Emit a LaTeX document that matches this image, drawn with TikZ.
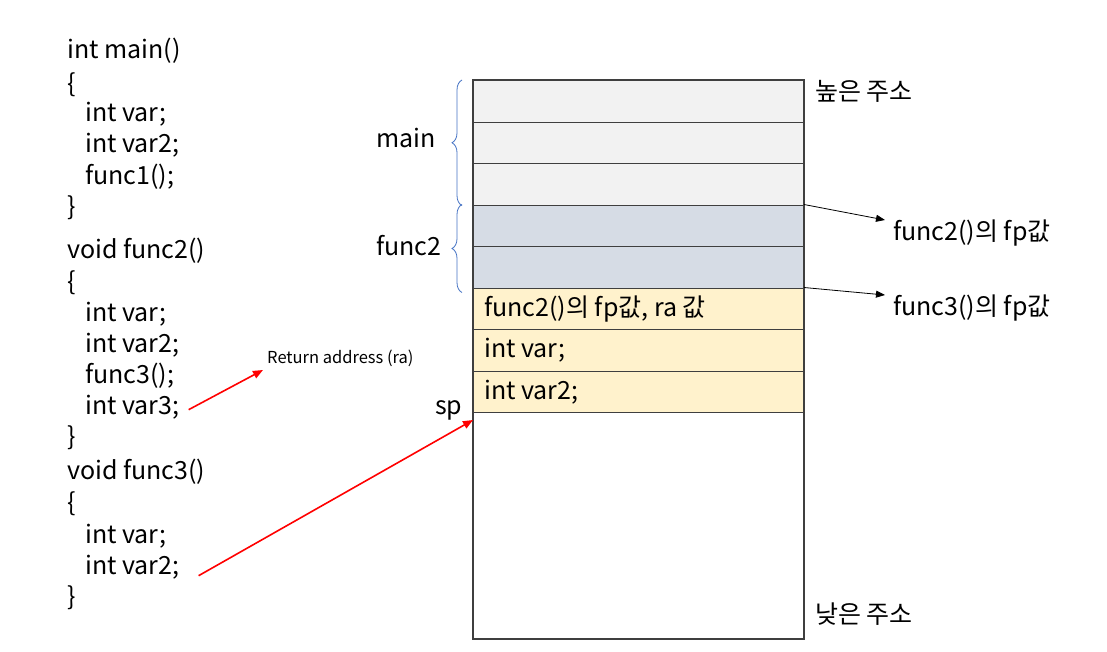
\documentclass[tikz,border=0pt]{standalone}
\usepackage{fontspec}
\setmainfont{Noto Sans CJK KR}
\usetikzlibrary{arrows.meta,decorations.pathreplacing,positioning}
\definecolor{StkGray}{HTML}{F2F2F2}
\definecolor{StkBlue}{HTML}{D6DCE5}
\definecolor{StkYellow}{HTML}{FFF2CC}
\definecolor{StkLine}{HTML}{3F3F3F}
\definecolor{BraceBlue}{HTML}{4472C4}

\begin{document}
\begin{tikzpicture}[x=1pt,y=-1pt,
    cell/.style={draw=StkLine,line width=1pt,minimum width=330pt,minimum height=41.5pt,
      inner sep=0pt,anchor=north west},
    code/.style={anchor=base west,inner sep=0pt,font=\fontsize{25}{29}\selectfont},
    celltext/.style={anchor=west,inner sep=0pt,font=\fontsize{25}{29}\selectfont},
    note/.style={anchor=west,inner sep=0pt,font=\fontsize{25}{29}\selectfont},
    brace/.style={decorate,decoration={brace,amplitude=10pt},draw=BraceBlue,line width=0.8pt},
    fparrow/.style={-{Triangle[length=9pt,width=7pt]},line width=0.8pt,draw=black},
    redarrow/.style={-{Triangle[length=10pt,width=8pt]},line width=1.6pt,draw=red}
  ]
  \fill[white] (0,0) rectangle (1107,651);
  \useasboundingbox (0,0) rectangle (1107,651);

  % source code
  \foreach \x/\y/\t [count=\i] in {67/50/int main(),67/84/\{,85/113/int var;,85/144/int var2;,
      85/176/func1();,67/207/\},67/250/void func2(),67/282/\{,85/313/int var;,85/344/int var2;,
      85/375/func3();,85/406/int var3;,67/437/\},67/471/void func3(),67/503/\{,85/535/int var;,
      85/566/int var2;,67/597/\}}
    \node[code] (code\i) at (\x,\y+8) {\t};

  % stack
  \foreach \c [count=\i] in {StkGray,StkGray,StkGray,StkBlue,StkBlue,StkYellow,StkYellow,StkYellow}
    \node[cell,fill=\c] (c\i) at (473,{80+(\i-1)*41.5}) {};
  \node[cell,minimum height=226pt,fill=white] (c9) at (473,412) {};
  \draw[StkLine,line width=1.6pt] (c1.north west) rectangle (c9.south east);

  \node[celltext] (t6) at ([xshift=11pt]c6.west) {func2()의 fp값, ra 값};
  \node[celltext] (t7) at ([xshift=11pt]c7.west) {int var;};
  \node[celltext] (t8) at ([xshift=11pt]c8.west) {int var2;};

  \node[note] (high) at (815,91) {높은 주소};
  \node[note] (low) at (815,614) {낮은 주소};

  % frames
  \draw[brace] ([xshift=-11pt]c3.south west) -- ([xshift=-11pt]c1.north west);
  \draw[brace] ([xshift=-11pt,yshift=-4pt]c5.south west) -- ([xshift=-11pt]c4.north west);
  \node[note] (lmain) at (376,138) {main};
  \node[note] (lfunc2) at (376,246) {func2};

  % frame pointers
  \node[note] (fp2) at (893,233) {func2()의 fp값};
  \node[note] (fp3) at (893,308) {func3()의 fp값};
  \draw[fparrow] (c4.north east) -- ([xshift=-8pt,yshift=13pt]fp2.west);
  \draw[fparrow] (c6.north east) -- ([xshift=-8pt,yshift=13pt]fp3.west);

  % return address and stack pointer
  \node[anchor=west,inner sep=0pt,font=\fontsize{16.5}{19}\selectfont] (ra) at (267,358) {Return address (ra)};
  \node[note] (sp) at (435,410) {sp};
  \draw[redarrow] ([xshift=9pt,yshift=-3pt]code12.east) -- ([xshift=-4pt,yshift=-12pt]ra.west);
  \draw[redarrow] ([xshift=19pt,yshift=-9pt]code17.east) -- ([yshift=-8pt]c9.north west);
\end{tikzpicture}
\end{document}
